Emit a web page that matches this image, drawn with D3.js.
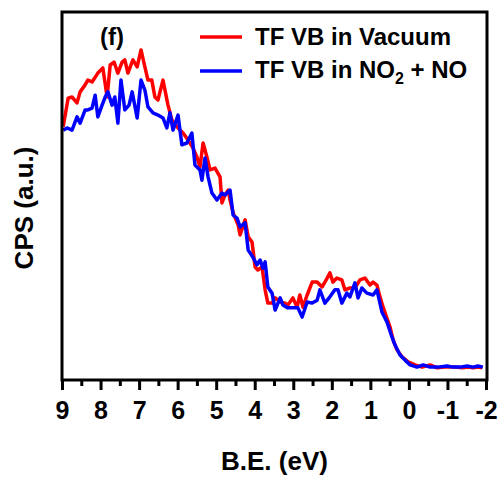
<!DOCTYPE html>
<html>
<head>
<meta charset="utf-8">
<script src="https://cdn.jsdelivr.net/npm/d3@7"></script>
<style>
  html, body { margin: 0; padding: 0; background: #fff; }
  svg { display: block; }
  text { font-family: "Liberation Sans", Arial, sans-serif; font-weight: bold; fill: #000; }
</style>
</head>
<body>
<svg id="chart" width="501" height="479"></svg>
<script>
// Valence-band spectra: binding energy (eV) and intensity (a.u.)
const vacuumBE = [8.97, 8.84, 8.74, 8.61, 8.53, 8.40, 8.33, 8.22, 8.07, 7.94, 7.83, 7.75, 7.65, 7.55, 7.44, 7.37, 7.29, 7.16, 7.05, 6.95,
  6.85, 6.77, 6.67, 6.59, 6.51, 6.38, 6.25, 6.15, 5.99, 5.86, 5.73, 5.60, 5.50, 5.42, 5.34, 5.24, 5.16, 5.03, 4.90, 4.85,
  4.77, 4.69, 4.64, 4.56, 4.43, 4.38, 4.25, 4.17, 4.07, 3.99, 3.92, 3.81, 3.73, 3.66, 3.55, 3.47, 3.34, 3.21, 3.14, 3.01,
  2.90, 2.83, 2.75, 2.64, 2.51, 2.38, 2.25, 2.12, 2.05, 1.97, 1.87, 1.74, 1.66, 1.53, 1.40, 1.27, 1.14, 1.01, 0.93, 0.83,
  0.75, 0.67, 0.57, 0.49, 0.41, 0.31, 0.18, 0.02, -0.16, -0.34, -0.55, -0.73, -0.94, -1.20, -1.38, -1.53, -1.66, -1.79, -1.90];
const vacuumCPS = [68.8, 76.6, 76.9, 75.3, 78.3, 80.2, 81.5, 81.0, 83.4, 84.8, 76.9, 85.6, 86.4, 83.4, 86.4, 87.0, 83.4, 87.0, 85.1, 89.7,
  85.1, 81.5, 81.5, 76.9, 76.1, 81.5, 74.7, 70.7, 68.5, 67.1, 65.2, 63.0, 60.6, 57.9, 64.4, 60.6, 57.1, 57.6, 55.2, 48.1,
  50.3, 51.6, 48.9, 45.4, 42.1, 39.4, 43.5, 38.9, 37.5, 30.7, 29.9, 30.7, 24.5, 20.9, 20.9, 22.3, 21.2, 20.9, 20.4, 22.3,
  19.8, 23.1, 19.8, 23.1, 26.6, 26.6, 25.3, 27.7, 29.1, 26.6, 27.7, 27.2, 24.5, 25.0, 25.0, 27.2, 27.7, 25.8, 26.6, 25.8,
  22.6, 19.8, 16.8, 14.4, 10.9, 8.2, 6.3, 4.9, 4.1, 3.5, 4.1, 3.3, 3.5, 3.5, 3.3, 3.5, 3.3, 3.5, 3.3];

const gasBE = [8.97, 8.87, 8.74, 8.61, 8.53, 8.40, 8.33, 8.22, 8.14, 8.07, 7.96, 7.88, 7.81, 7.70, 7.63, 7.55, 7.47, 7.37, 7.26, 7.18,
  7.05, 6.95, 6.85, 6.77, 6.64, 6.51, 6.38, 6.28, 6.20, 6.12, 5.99, 5.89, 5.76, 5.63, 5.55, 5.42, 5.37, 5.29, 5.21, 5.11,
  4.98, 4.85, 4.77, 4.64, 4.56, 4.46, 4.38, 4.25, 4.17, 4.05, 3.94, 3.86, 3.79, 3.73, 3.66, 3.55, 3.47, 3.34, 3.27, 3.14,
  3.01, 2.88, 2.77, 2.64, 2.51, 2.38, 2.31, 2.18, 2.05, 1.92, 1.84, 1.74, 1.61, 1.53, 1.40, 1.32, 1.22, 1.09, 0.93, 0.83,
  0.70, 0.57, 0.44, 0.36, 0.23, 0.10, -0.03, -0.21, -0.37, -0.55, -0.75, -0.99, -1.14, -1.33, -1.51, -1.66, -1.79, -1.92];
const gasCPS = [67.9, 68.5, 67.9, 71.5, 69.8, 73.4, 73.4, 73.9, 77.4, 71.5, 74.7, 76.9, 78.3, 74.7, 76.9, 69.8, 81.5, 73.4, 74.7, 78.3,
  71.2, 81.5, 78.8, 74.2, 72.6, 72.0, 71.2, 68.5, 72.6, 67.9, 72.0, 63.9, 64.4, 67.1, 58.4, 57.1, 54.3, 60.3, 55.2, 50.8,
  48.9, 50.8, 50.3, 51.6, 44.8, 44.0, 41.6, 42.7, 35.3, 33.4, 31.3, 32.6, 30.4, 32.1, 25.3, 23.6, 19.0, 22.3, 20.4, 19.6,
  19.6, 19.6, 17.1, 21.2, 20.9, 21.7, 24.5, 20.9, 22.6, 24.5, 24.5, 20.9, 23.6, 22.6, 26.4, 22.3, 25.0, 23.6, 23.1, 24.5,
  18.5, 15.8, 11.7, 9.5, 6.8, 5.4, 4.1, 3.5, 4.1, 3.5, 3.5, 3.8, 3.5, 3.5, 3.8, 3.5, 3.8, 3.5];

const majorTicks = [9, 8, 7, 6, 5, 4, 3, 2, 1, 0, -1, -2];
const minorTicks = [8.5, 7.5, 6.5, 5.5, 4.5, 3.5, 2.5, 1.5, 0.5, -0.5, -1.5];

const seriesNames = ["TF VB in Vacuum", "TF VB in NO"];
const seriesColors = ["#ff0000", "#0000ff"];

const svg = d3.select("#chart");
const plot = { left: 62, right: 487, top: 12, bottom: 380 };

const x = d3.scaleLinear().domain([9, -2]).range([plot.left, plot.right - 1]);
const y = d3.scaleLinear().domain([0, 100]).range([plot.bottom, plot.top]);

const line = d3.line().x(d => x(d[0])).y(d => y(d[1]));

const vacuum = vacuumBE.map((e, i) => [e, vacuumCPS[i]]);
const gas = gasBE.map((e, i) => [e, gasCPS[i]]);

// spectra
[[vacuum, seriesColors[0]], [gas, seriesColors[1]]].forEach(([data, color]) => {
  svg.append("path")
    .datum(data)
    .attr("d", line)
    .attr("fill", "none")
    .attr("stroke", color)
    .attr("stroke-width", 3.5)
    .attr("stroke-linejoin", "round");
});

// frame
svg.append("rect")
  .attr("x", plot.left)
  .attr("y", plot.top)
  .attr("width", plot.right - plot.left)
  .attr("height", plot.bottom - plot.top)
  .attr("fill", "none")
  .attr("stroke", "#000")
  .attr("stroke-width", 3);

// bottom axis: major ticks with labels, minor ticks between
const xAxis = svg.append("g")
  .attr("transform", `translate(0,${plot.bottom})`)
  .call(d3.axisBottom(x).tickValues(majorTicks).tickSize(10).tickPadding(11).tickFormat(d => String(d)));
xAxis.select(".domain").remove();
xAxis.selectAll(".tick line").attr("stroke", "#000").attr("stroke-width", 3);
xAxis.selectAll(".tick text")
  .attr("font-size", 25)
  .style("font-family", "'Liberation Sans', Arial, sans-serif")
  .style("font-weight", "bold")
  .attr("fill", "#000");

const xMinor = svg.append("g")
  .attr("transform", `translate(0,${plot.bottom})`)
  .call(d3.axisBottom(x).tickValues(minorTicks).tickSize(6).tickFormat(""));
xMinor.select(".domain").remove();
xMinor.selectAll(".tick line").attr("stroke", "#000").attr("stroke-width", 3);

// axis titles
svg.append("text")
  .attr("x", (plot.left + plot.right) / 2)
  .attr("y", 470)
  .attr("text-anchor", "middle")
  .attr("font-size", 26)
  .text("B.E. (eV)");

svg.append("text")
  .attr("transform", "translate(33,208) rotate(-90)")
  .attr("text-anchor", "middle")
  .attr("font-size", 26)
  .text("CPS (a.u.)");

// panel label
svg.append("text")
  .attr("x", 112)
  .attr("y", 45)
  .attr("text-anchor", "middle")
  .attr("font-size", 24)
  .text("(f)");

// legend
const legend = svg.append("g");
const legendRows = [{ y: 37, base: 45 }, { y: 71, base: 78 }];
legendRows.forEach((r, i) => {
  legend.append("line")
    .attr("x1", 200).attr("x2", 242)
    .attr("y1", r.y).attr("y2", r.y)
    .attr("stroke", seriesColors[i])
    .attr("stroke-width", 3.5);
  const t = legend.append("text")
    .attr("x", 255)
    .attr("y", r.base)
    .attr("font-size", 24)
    .text(seriesNames[i]);
  if (i === 1) {
    t.append("tspan").attr("font-size", 16).attr("dy", 6).text("2");
    t.append("tspan").attr("dy", -6).text(" + NO");
  }
});
</script>
</body>
</html>
